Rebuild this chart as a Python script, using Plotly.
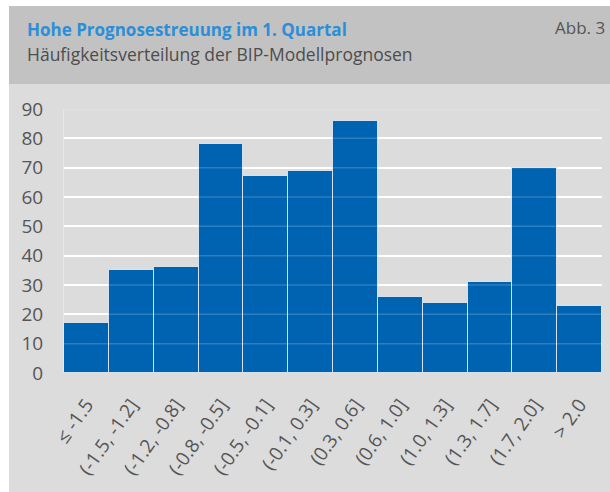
import plotly.graph_objects as go

categories = ["≤ -1.5", "(-1.5, -1.2]", "(-1.2, -0.8]", "(-0.8, -0.5]", "(-0.5, -0.1]",
              "(-0.1, 0.3]", "(0.3, 0.6]", "(0.6, 1.0]", "(1.0, 1.3]", "(1.3, 1.7]",
              "(1.7, 2.0]", "> 2.0"]
counts = [17, 35, 36, 78, 67, 69, 86, 26, 24, 31, 70, 23]
y_ticks = [0, 10, 20, 30, 40, 50, 60, 70, 80, 90]

title = "Hohe Prognosestreuung im 1. Quartal"
subtitle = "Häufigkeitsverteilung der BIP-Modellprognosen"
label = "Abb. 3"

W, H = 610, 492
ML, MR, MT, MB = 64, 8, 109, 119
PW, PH = W - ML - MR, H - MT - MB

def px(x):
    return (x - ML) / PW

def py(y):
    return (H - MB - y) / PH

FONT = "Open Sans"
TXT = "#555555"

fig = go.Figure()
fig.add_trace(go.Bar(
    x=categories, y=counts,
    marker=dict(color="#0063b1", line=dict(color="rgba(225,232,240,0.9)", width=1)),
    hoverinfo="x+y",
))

shapes = [
    dict(type="rect", xref="paper", yref="paper", x0=px(9), x1=px(611), y0=py(84), y1=py(6),
         fillcolor="#c2c2c2", line=dict(width=0), layer="below"),
    dict(type="rect", xref="paper", yref="paper", x0=px(9), x1=px(611), y0=py(493), y1=py(84),
         fillcolor="#dcdcdc", line=dict(width=0), layer="below"),
]
for t in y_ticks[1:]:
    shapes.append(dict(type="line", xref="paper", yref="y", x0=0, x1=1, y0=t, y1=t,
                       line=dict(color="rgba(255,255,255,0.18)", width=1.5), layer="above"))

fig.update_layout(
    width=W, height=H,
    margin=dict(l=ML, r=MR, t=MT, b=MB, pad=0),
    paper_bgcolor="white",
    plot_bgcolor="rgba(0,0,0,0)",
    bargap=0,
    showlegend=False,
    shapes=shapes,
    font=dict(family=FONT, color=TXT),
    xaxis=dict(
        range=[-0.5, len(categories) - 0.5],
        tickangle=-55,
        tickfont=dict(size=19, color=TXT, family=FONT),
        showgrid=False, zeroline=False, showline=False,
        ticks="", ticklabelstandoff=16,
    ),
    yaxis=dict(
        range=[0, 90],
        tickvals=y_ticks,
        tickfont=dict(size=19, color=TXT, family=FONT),
        showgrid=True, gridcolor="white", gridwidth=1.5,
        zeroline=False, showline=True, linecolor="rgba(255,255,255,0.35)", linewidth=1,
        ticks="", ticklabelstandoff=16,
    ),
    annotations=[
        dict(text="<b>" + title + "</b>", xref="paper", yref="paper", x=px(25), y=py(30),
             xanchor="left", yanchor="middle", showarrow=False,
             font=dict(size=17, color="#2a8fd8", family=FONT)),
        dict(text=subtitle, xref="paper", yref="paper", x=px(25), y=py(54),
             xanchor="left", yanchor="middle", showarrow=False,
             font=dict(size=17.5, color="#4d4d4d", family=FONT)),
        dict(text=label, xref="paper", yref="paper", x=px(607), y=py(28),
             xanchor="right", yanchor="middle", showarrow=False,
             font=dict(size=17, color="#555555", family=FONT)),
    ],
)

fig.write_html("out.html", config={"displayModeBar": False},
               post_script="document.body.style.margin='0';document.body.style.overflow='hidden';")
